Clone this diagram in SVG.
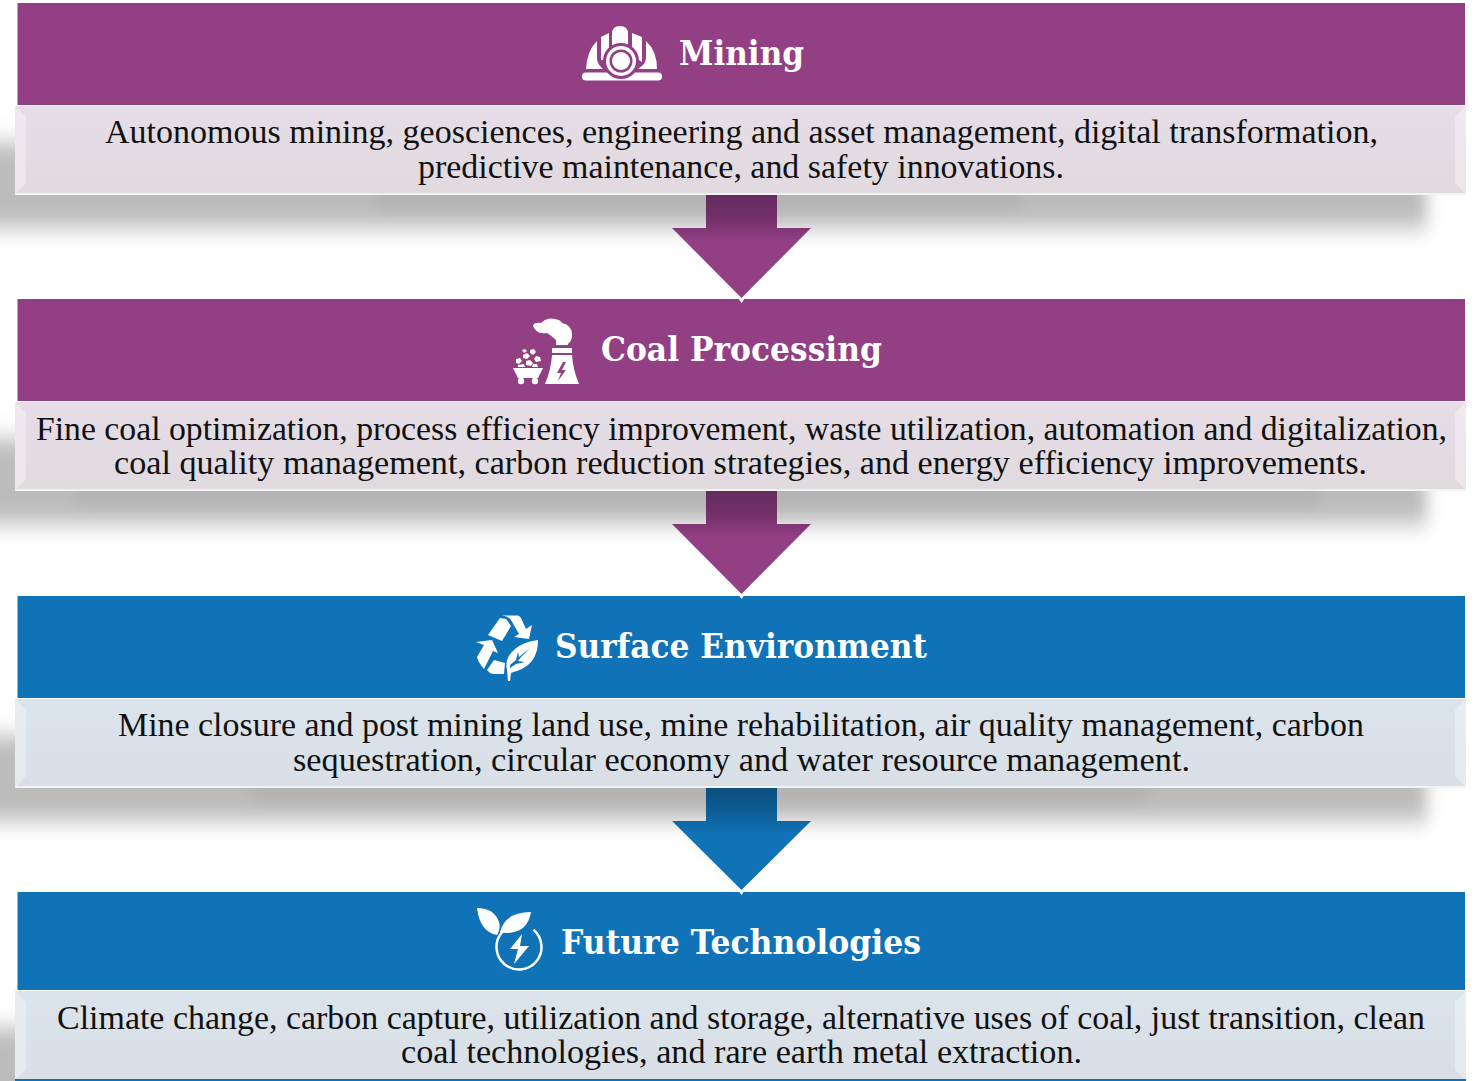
<svg xmlns="http://www.w3.org/2000/svg" width="1478" height="1081" viewBox="0 0 1478 1081">
<style>
.body{font-family:"Liberation Serif","DejaVu Serif",serif;font-size:33px;fill:#111}
.head{font-family:"DejaVu Serif",serif;font-weight:700;font-size:34px;fill:#fff}
.pur{fill:#933f84}.blu{fill:#1073b7}
.pb{fill:url(#pb)}.bb{fill:url(#bb)}
.edge{fill:#fff;opacity:.35}
.shadow{fill:#bcbcbc}
.ic{fill:#fff}
.icl{fill:none;stroke:#fff}
.tip{fill:#fff}
</style>
<defs>
<linearGradient id="pb" x1="0" y1="0" x2="0" y2="1"><stop offset="0" stop-color="#e6dde6"/><stop offset="1" stop-color="#e0dadf"/></linearGradient>
<linearGradient id="bb" x1="0" y1="0" x2="0" y2="1"><stop offset="0" stop-color="#dbe3ec"/><stop offset="1" stop-color="#d8dfe6"/></linearGradient>
<linearGradient id="ap" x1="0" y1="0" x2="0" y2="1"><stop offset="0" stop-color="#652b5e"/><stop offset=".2" stop-color="#6f2f66"/><stop offset=".45" stop-color="#933f84"/><stop offset="1" stop-color="#933f84"/></linearGradient>
<linearGradient id="ab" x1="0" y1="0" x2="0" y2="1"><stop offset="0" stop-color="#0c4f7f"/><stop offset=".2" stop-color="#0d5a90"/><stop offset=".45" stop-color="#1073b7"/><stop offset="1" stop-color="#1073b7"/></linearGradient>
<filter id="blur" filterUnits="userSpaceOnUse" x="-100" y="0" width="1700" height="1200"><feGaussianBlur stdDeviation="8 11"/></filter>
<filter id="blur2" filterUnits="userSpaceOnUse" x="-100" y="0" width="1700" height="1200"><feGaussianBlur stdDeviation="7"/></filter>
</defs>

<g id="shadows">
<rect class="shadow" x="-60" y="143" width="1487" height="85" filter="url(#blur)"/>
<rect x="375" y="190" width="645" height="20" fill="#a8a8a8" filter="url(#blur2)" opacity=".45"/>
<rect class="shadow" x="-60" y="439" width="1487" height="85" filter="url(#blur)"/>
<rect x="75" y="486" width="1245" height="20" fill="#a8a8a8" filter="url(#blur2)" opacity=".45"/>
<rect class="shadow" x="-60" y="736" width="1487" height="85" filter="url(#blur)"/>
<rect x="250" y="783" width="900" height="20" fill="#a8a8a8" filter="url(#blur2)" opacity=".45"/>
<rect class="shadow" x="-60" y="1028" width="1487" height="90" filter="url(#blur)"/>
</g>

<g id="mining">
<rect class="pur" x="17.500" y="3" width="1447.500" height="102"/>
<rect x="15" y="106" width="1451" height="88.500" class="pb"/>
<path class="edge" d="M15 106L26 117V183L15 194.500Z"/>
<path class="edge" d="M1466 106L1455 117V183L1466 194.500Z"/>
<rect x="15" y="193" width="1451" height="2" fill="#f2f2f2"/>
<text class="head" x="679" y="65" textLength="125" lengthAdjust="spacingAndGlyphs">Mining</text>
<g id="mining-icon">
<rect class="ic" x="582" y="72.500" width="80" height="8" rx="4"/>
<path class="ic" d="M612 34Q612 26 620 26Q628 26 628 34V47Q620 43 612 47Z"/>
<path class="ic" d="M601 37L609 33V51L603 60L601 60Z"/>
<path class="ic" d="M642 37L632 33V51L639 60L642 62Z"/>
<path class="ic" d="M597 41Q587 51 586 69L603 69Q597 64 597 58Z"/>
<path class="ic" d="M646 41Q657 51 657 69L638 69Q646 64 646 58Z"/>
<circle class="pur" cx="621" cy="61" r="18"/>
<circle class="ic" cx="621" cy="61" r="15"/>
<circle class="pur" cx="621" cy="61" r="11.500"/>
<circle class="ic" cx="621" cy="61" r="9"/>
</g>
<text class="body" x="105" y="143.200" textLength="1273" lengthAdjust="spacingAndGlyphs">Autonomous mining, geosciences, engineering and asset management, digital transformation,</text>
<text class="body" x="418" y="178.200" textLength="646" lengthAdjust="spacingAndGlyphs">predictive maintenance, and safety innovations.</text>
</g>

<g id="coal-processing">
<rect class="pur" x="17.500" y="299" width="1447.500" height="102"/>
<rect x="15" y="402" width="1451" height="88.500" class="pb"/>
<path class="edge" d="M15 402L26 413V479L15 490.500Z"/>
<path class="edge" d="M1466 402L1455 413V479L1466 490.500Z"/>
<rect x="15" y="489" width="1451" height="2" fill="#f2f2f2"/>
<text class="head" x="601" y="361" textLength="281" lengthAdjust="spacingAndGlyphs">Coal Processing</text>
<g id="coal-icon">
<path class="ic" d="M533 326Q534 322 541 323Q547 317 555 319Q561 320 562 323Q572 325 572 335Q572 341 568 344V345H556V340Q552 336 547 333Q537 335 533 326Z"/>
<rect class="ic" x="552" y="348" width="20" height="5"/>
<path class="ic" fill-rule="evenodd" d="M552 355H572Q573 370 579 384H545Q551 370 552 355ZM563 362L557 373H561L558 381L566 370H562L566 362Z"/>
<path class="ic" d="M513 368H543L538 378H518Z"/>
<circle class="ic" cx="521" cy="381" r="3.200"/><circle class="ic" cx="535" cy="381" r="3.200"/>
<path class="ic" d="M516 359l4 -1l2 3l-3 3l-3 -1Z"/>
<path class="ic" d="M523 355l4 -2l3 3l-3 3l-4 -1Z"/>
<path class="ic" d="M530 350l4 -1l2 3l-3 3l-3 -2Z"/>
<path class="ic" d="M536 356l4 1l1 4l-5 1l-2 -3Z"/>
<path class="ic" d="M526 361l4 -1l3 3l-2 3l-5 -1Z"/>
<path class="ic" d="M518 365l6 -1l1 3h-7Z"/>
<path class="ic" d="M533 364l4 0l1 3h-6Z"/>
<path class="ic" d="M522 350l3 -1l2 2l-3 2Z"/>
</g>
<text class="body" x="36" y="440.200" textLength="1411" lengthAdjust="spacingAndGlyphs">Fine coal optimization, process efficiency improvement, waste utilization, automation and digitalization,</text>
<text class="body" x="114" y="474.200" textLength="1253" lengthAdjust="spacingAndGlyphs">coal quality management, carbon reduction strategies, and energy efficiency improvements.</text>
</g>

<g id="surface-environment">
<rect class="blu" x="17.500" y="596" width="1447.500" height="102"/>
<rect x="15" y="699" width="1451" height="88.500" class="bb"/>
<path class="edge" d="M15 699L26 710V776L15 787.500Z"/>
<path class="edge" d="M1466 699L1455 710V776L1466 787.500Z"/>
<rect x="15" y="786" width="1451" height="2" fill="#f2f2f2"/>
<text class="head" x="555" y="658" textLength="372" lengthAdjust="spacingAndGlyphs">Surface Environment</text>
<g id="surface-icon">
<path class="ic" d="M500 618L488 635L502 641L511 626L506 619Z"/>
<path class="ic" d="M502 615.500H518Q520 616 521 618L526 629L532 625L529 639L514 637L519 634L511 620Q508 616 502 615.500Z"/>
<path class="ic" d="M476 642L492 640L498 653L493 651L484 669Q478 662 477 657L484 645Z"/>
<path class="ic" d="M494 660L505 663L504 674H493Q489 673 487 670Z"/>
<path class="ic" fill-rule="evenodd" d="M538 640Q538 664 517 671Q513 672 511 673L510 681H508L507 670Q504 658 515 649Q523 642 538 640ZM530 648L519 657L518 652L516 660L510 665V668L516 664L525 662L518 661L521 657Z"/>
</g>
<text class="body" x="118" y="736.200" textLength="1246" lengthAdjust="spacingAndGlyphs">Mine closure and post mining land use, mine rehabilitation, air quality management, carbon</text>
<text class="body" x="293" y="771.200" textLength="897" lengthAdjust="spacingAndGlyphs">sequestration, circular economy and water resource management.</text>
</g>

<g id="future-technologies">
<rect class="blu" x="17.500" y="892" width="1447.500" height="98"/>
<rect x="15" y="991" width="1451" height="89" class="bb"/>
<path class="edge" d="M15 991L26 1002V1070L15 1080Z"/>
<path class="edge" d="M1466 991L1455 1002V1070L1466 1080Z"/>
<rect x="15" y="1079" width="1451" height="2" fill="#1073b7"/>
<text class="head" x="561" y="954" textLength="360" lengthAdjust="spacingAndGlyphs">Future Technologies</text>
<g id="future-icon">
<circle class="icl" cx="519" cy="947" r="22.500" stroke-width="2.500" stroke-dasharray="120 30" transform="rotate(-50 519 947)"/>
<path class="ic" d="M477 908Q494 908 499 922Q501 928 497 935Q480 932 477 908Z"/>
<path class="ic" d="M531 912Q528 929 514 932Q506 934 500 932Q505 912 531 912Z"/>
<path class="ic" d="M522 934L510 949H518L514 964L529 946H520Z"/>
</g>
<text class="body" x="57" y="1029.200" textLength="1368" lengthAdjust="spacingAndGlyphs">Climate change, carbon capture, utilization and storage, alternative uses of coal, just transition, clean</text>
<text class="body" x="401" y="1063.200" textLength="681" lengthAdjust="spacingAndGlyphs">coal technologies, and rare earth metal extraction.</text>
</g>

<g id="connectors">
<path d="M706 195H777V228H811L741.500 298L672 228H706Z" fill="url(#ap)"/>
<path class="tip" d="M738 298H745L741.500 303Z"/>
<path d="M706 491H777V524H811L741.500 594L672 524H706Z" fill="url(#ap)"/>
<path class="tip" d="M738 594H745L741.500 599Z"/>
<path d="M706 788H777V821H811L741.500 890L672 821H706Z" fill="url(#ab)"/>
<path class="tip" d="M738 890H745L741.500 895Z"/>
</g>
</svg>
